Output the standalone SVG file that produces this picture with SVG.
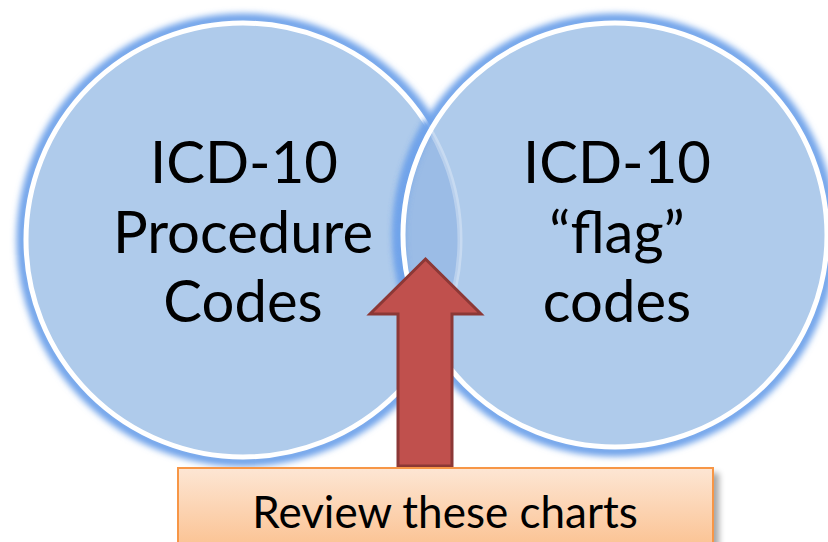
<svg xmlns="http://www.w3.org/2000/svg" width="828" height="542" viewBox="0 0 828 542">
<style>
.lbl{font-family:Lato,"Open Sans","Liberation Sans",sans-serif;font-size:58px;fill:#000;text-anchor:middle}
.box{font-family:Lato,"Open Sans","Liberation Sans",sans-serif;font-size:44px;fill:#000;text-anchor:middle}
.fill{fill:#AFCBEB}
.ring{fill:none;stroke:#fff;stroke-width:5}
.glow{fill:none;stroke:#6FA3EA;stroke-width:11;filter:url(#blur)}
</style>
<defs>
<filter id="blur" x="-20%" y="-20%" width="140%" height="140%"><feGaussianBlur stdDeviation="3"/></filter>
<filter id="sh" x="-10%" y="-30%" width="120%" height="160%"><feGaussianBlur stdDeviation="3"/></filter>
<clipPath id="clipL"><circle cx="243" cy="240" r="217"/></clipPath>
<clipPath id="clipR"><circle cx="615" cy="235" r="212"/></clipPath>
<linearGradient id="og" x1="0" y1="0" x2="0" y2="1">
<stop offset="0" stop-color="#FDE6D4"/>
<stop offset="1" stop-color="#FBC292"/>
</linearGradient>
</defs>
<g id="circle-left">
<circle class="glow" cx="243" cy="240" r="221"/>
<circle class="fill" cx="243" cy="240" r="217"/>
<circle class="ring" cx="243" cy="240" r="217"/>
<text class="lbl" x="244" y="183">ICD-10</text>
<text class="lbl" x="243" y="253">Procedure</text>
<text class="lbl" x="243" y="322">Codes</text>
</g>
<g id="circle-right">
<circle class="glow" cx="615" cy="235" r="216"/>
<circle class="fill" cx="615" cy="235" r="212"/>
<circle cx="615" cy="235" r="212" fill="#9BBCE6" clip-path="url(#clipL)"/>
<circle cx="243" cy="240" r="217" fill="none" stroke="#fff" stroke-opacity="0.3" stroke-width="5" clip-path="url(#clipR)"/>
<circle cx="615" cy="235" r="216" fill="none" stroke="#6FA3EA" stroke-width="11" filter="url(#blur)" clip-path="url(#clipL)" opacity="0.8"/>
<circle class="ring" cx="615" cy="235" r="212"/>
<text class="lbl" x="617" y="183">ICD-10</text>
<text class="lbl" x="617" y="253">“flag”</text>
<text class="lbl" x="617" y="322">codes</text>
</g>
<g id="connectors">
<path d="M425.5,259 L481,314 L452,314 L452,466 L398,466 L398,314 L370,314 Z" fill="#C0504D" stroke="#8C3836" stroke-width="3" stroke-linejoin="miter"/>
</g>
<g id="review-box">
<rect x="184" y="473" width="535" height="80" fill="#000" opacity="0.35" filter="url(#sh)"/>
<rect x="178" y="468" width="535" height="80" fill="url(#og)" stroke="#F79646" stroke-width="2"/>
<text class="box" x="445" y="528">Review these charts</text>
</g>
</svg>
